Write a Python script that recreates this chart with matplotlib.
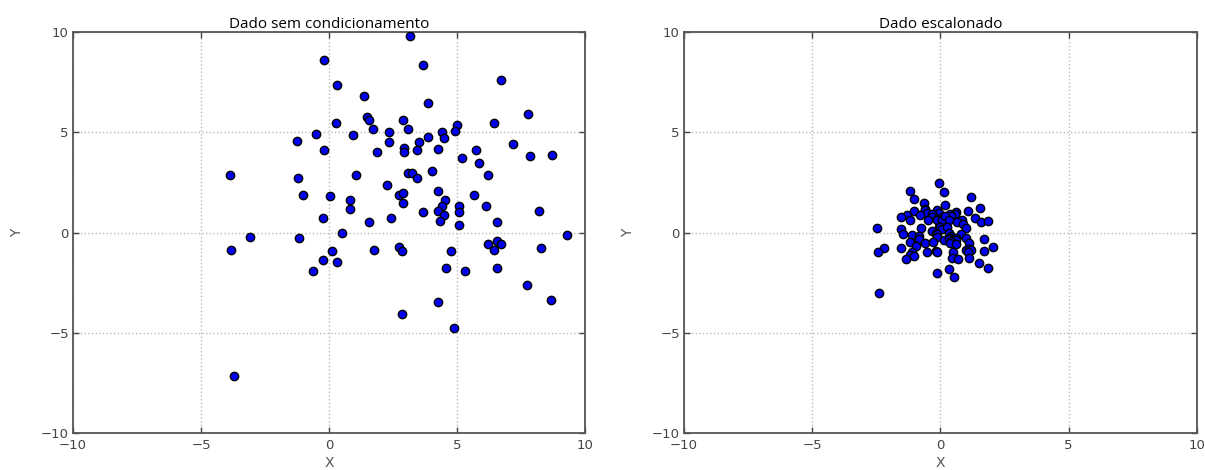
import numpy as np
import matplotlib
matplotlib.use('Agg')
import matplotlib.pyplot as plt

# raw sample (x, y)
x_raw = [3.16, -0.18, 0.3, 1.38, 1.48, 1.55, 0.26, 2.88, 3.07, 1.72,
         2.33, -0.52, 0.93, -1.25, 2.33, 3.5, -0.18, 1.88, 2.93, 2.93,
         3.42, -3.88, -1.2, 1.04, 3.1, 3.23, 3.42, 2.28, -1.03, 0.04,
         2.72, 2.89, 0.83, 0.83, 2.89, 3.68, -0.23, 1.55, 2.4, 0.5,
         3.67, 6.7, 3.85, 7.77, 6.43, 4.99, 4.92, 4.4, 4.47, 3.85,
         4.25, 5.75, 7.17, 5.2, 5.87, 7.84, 8.72, 4.02, 6.21, 5.66,
         4.25, 4.53, 4.41, 5.09, 5.09, 6.14, 8.18, 4.25, 4.47, 4.35,
         5.09, 6.54, 9.28, 6.2, 6.55, 6.72, 6.43, 8.28, 2.72, 2.84,
         4.75, 4.58, 5.31, 6.54, 7.71, 8.68, 4.25, 2.83, 4.86, -3.1,
         -1.16, -3.83, 0.1, 1.76, -0.23, 0.31, -0.63, -3.72]
y_raw = [9.8, 8.6, 7.38, 6.8, 5.74, 5.6, 5.46, 5.6, 5.17, 5.17,
         5.02, 4.94, 4.87, 4.59, 4.52, 4.52, 4.1, 4.03, 4.23, 4.03,
         4.1, 2.88, 2.73, 2.88, 2.95, 2.95, 2.73, 2.38, 1.88, 1.82,
         1.88, 1.95, 1.6, 1.17, 1.45, 1.02, 0.74, 0.52, 0.74, 0.0,
         8.38, 7.6, 6.45, 5.89, 5.46, 5.39, 5.09, 5.04, 4.72, 4.79,
         4.16, 4.1, 4.44, 3.73, 3.45, 3.81, 3.88, 3.08, 2.88, 1.88,
         2.08, 1.6, 1.32, 1.32, 1.02, 1.32, 1.09, 1.09, 0.87, 0.57,
         0.39, 0.52, -0.14, -0.56, -0.42, -0.56, -0.86, -0.77, -0.71, -0.92,
         -0.92, -1.78, -1.92, -1.78, -2.63, -3.35, -3.48, -4.08, -4.77, -0.21,
         -0.27, -0.86, -0.92, -0.86, -1.35, -1.49, -1.92, -7.15]

titles = ['Dado sem condicionamento', 'Dado escalonado']
ticks = [-10, -5, 0, 5, 10]
tick_labels = ['\u221210', '\u22125', '0', '5', '10']

x = np.array(x_raw)
y = np.array(y_raw)
# standard scaling (zero mean, unit variance)
xs = (x - x.mean()) / x.std()
ys = (y - y.mean()) / y.std()

plt.rcParams['axes.edgecolor'] = '#555555'
plt.rcParams['xtick.direction'] = 'in'
plt.rcParams['ytick.direction'] = 'in'
plt.rcParams['xtick.top'] = True
plt.rcParams['ytick.right'] = True

fig = plt.figure(figsize=(12.05, 4.70), dpi=100)
ax1 = fig.add_axes([0.0606, 0.0787, 0.425, 0.853])
ax2 = fig.add_axes([0.5676, 0.0787, 0.4257, 0.853])

for ax, (px, py), t in zip([ax1, ax2], [(x, y), (xs, ys)], titles):
    ax.scatter(px, py, s=36, c='#0000ee', edgecolors='black', linewidths=1.0, zorder=3)
    ax.set_xlim(-10, 10)
    ax.set_ylim(-10, 10)
    ax.set_xticks(ticks)
    ax.set_yticks(ticks)
    ax.set_xticklabels(tick_labels)
    ax.set_yticklabels(tick_labels)
    ax.grid(True, color='#bbbbbb', linestyle=':', linewidth=1.0)
    ax.tick_params(colors='#444444', labelsize=9.5, length=4, width=1)
    ax.tick_params(axis='x', pad=4)
    ax.tick_params(axis='y', pad=3)
    for s in ax.spines.values():
        s.set_linewidth(1.3)
    ax.set_title(t, fontsize=11, family='Open Sans', color='black', pad=2)
    ax.set_xlabel('X', color='#555555', fontsize=10, labelpad=3)
    ax.set_ylabel('Y', color='#555555', fontsize=10, labelpad=12)

fig.savefig('out.png', dpi=100)
